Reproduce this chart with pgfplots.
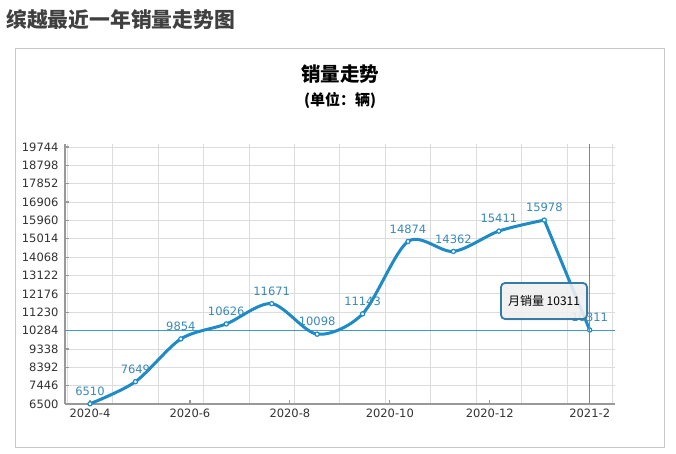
\documentclass[border=0pt]{standalone}
\usepackage{fontspec}
\setmainfont{DejaVu Sans}
\newfontfamily\cjk{Noto Sans CJK SC}
\usepackage{pgfplots}
\pgfplotsset{compat=1.18}
\usetikzlibrary{shadows}
\definecolor{linecol}{HTML}{1E8BC6}
\definecolor{labcol}{HTML}{3A8AB8}
\definecolor{crosscol}{HTML}{3E9AD2}
\definecolor{gridcol}{HTML}{DCDCDC}
\definecolor{axiscol}{HTML}{999999}
\definecolor{ticktext}{HTML}{333333}
\pgfplotstableread{
x y
0 6510
1 7649
2 9854
3 10626
4 11671
5 10098
6 11143
7 14874
8 14362
9 15411
10 15978
}\rising
\pgfplotstableread{
x y
10 15978
11 10311
}\falling
\begin{document}
\begin{tikzpicture}[x=1pt,y=1pt]
\path[fill=white] (0,0) rectangle (676,454);
\node[anchor=west, inner sep=0pt, font=\cjk\bfseries\fontsize{20.8}{22}\selectfont, text=black!75] at (6,434) {缤越最近一年销量走势图};
\draw[color=black!22, line width=1pt] (15.5,6) rectangle (664,405);
\node[inner sep=0pt, font=\cjk\bfseries\fontsize{19.5}{21}\selectfont] at (340,380) {销量走势};
\node[inner sep=0pt, font=\cjk\bfseries\fontsize{15}{17}\selectfont] at (340,354) {(单位：辆)};
\begin{axis}[
  at={(65pt,50pt)}, anchor=south west, scale only axis,
  width=549.7pt, height=260pt,
  xmin=-0.55, xmax=11.55, ymin=6500, ymax=19899,
  axis x line*=bottom, axis y line*=left,
  x axis line style={-, draw=axiscol, line width=2pt},
  y axis line style={-, draw=axiscol, line width=2pt},
  xtick={0,2.2,4.4,6.6,8.8,11},
  xticklabels={2020-4,2020-6,2020-8,2020-10,2020-12,2021-2},
  minor xtick={-0.5,0.5,1.5,2.5,3.5,4.5,5.5,6.5,7.5,8.5,9.5,10.5,11.5},
  scaled y ticks=false,
  ytick={6500,7446,8392,9338,10284,11230,12176,13122,14068,15014,15960,16906,17852,18798,19744},
  yticklabels={6500,7446,8392,9338,10284,11230,12176,13122,14068,15014,15960,16906,17852,18798,19744},
  extra y ticks={10284}, extra y tick labels={},
  extra y tick style={ymajorgrids=true, major grid style={crosscol, line width=1pt}, major tick length=0pt},
  xmajorgrids=false, xminorgrids=true, ymajorgrids=true,
  minor grid style={gridcol, line width=0.8pt},
  major grid style={gridcol, line width=0.8pt},
  tick align=inside, major tick length=3.5pt, minor tick length=0pt,
  tick style={axiscol, line width=1.2pt},
  ticklabel style={font=\fontsize{11.5}{13}\selectfont, text=ticktext},
  yticklabel style={xshift=-3pt},
  xticklabel style={yshift=-1pt},
  clip=false,
]
\addplot[labcol, only marks, mark=none,
  nodes near coords, point meta=explicit symbolic,
  every node near coord/.append style={font=\fontsize{11.5}{13}\selectfont, text=labcol, anchor=south, yshift=4.5pt}]
coordinates {
(0,6510) [6510]
(1,7649) [7649]
(2,9854) [9854]
(3,10626) [10626]
(4,11671) [11671]
(5,10098) [10098]
(6,11143) [11143]
(7,14874) [14874]
(8,14362) [14362]
(9,15411) [15411]
(10,15978) [15978]
(11,10311) [10311]
};
\addplot[linecol, line width=3pt, smooth, line cap=round, mark=none] table[x=x,y=y] {\rising};
\addplot[linecol, line width=3pt, line cap=round, mark=none] table[x=x,y=y] {\falling};
\addplot[only marks, mark=*, mark size=2.1pt, mark options={fill=white, draw=linecol, line width=1.2pt}]
coordinates {(0,6510) (1,7649) (2,9854) (3,10626) (4,11671) (5,10098) (6,11143) (7,14874) (8,14362) (9,15411) (10,15978) (11,10311)};
\end{axis}
\draw[crosscol, line width=1pt] (589.7,51) -- (589.7,310);
\draw[draw=labcol!90!black, line width=1.8pt, rounded corners=4pt, fill=black!4, fill opacity=0.85, drop shadow={opacity=0.25, shadow xshift=1.5pt, shadow yshift=-1.5pt}] (501,135) rectangle (587,171);
\node[inner sep=0pt, font=\cjk\fontsize{12}{14}\selectfont] at (544,153) {月销量 10311};
\end{tikzpicture}
\end{document}
